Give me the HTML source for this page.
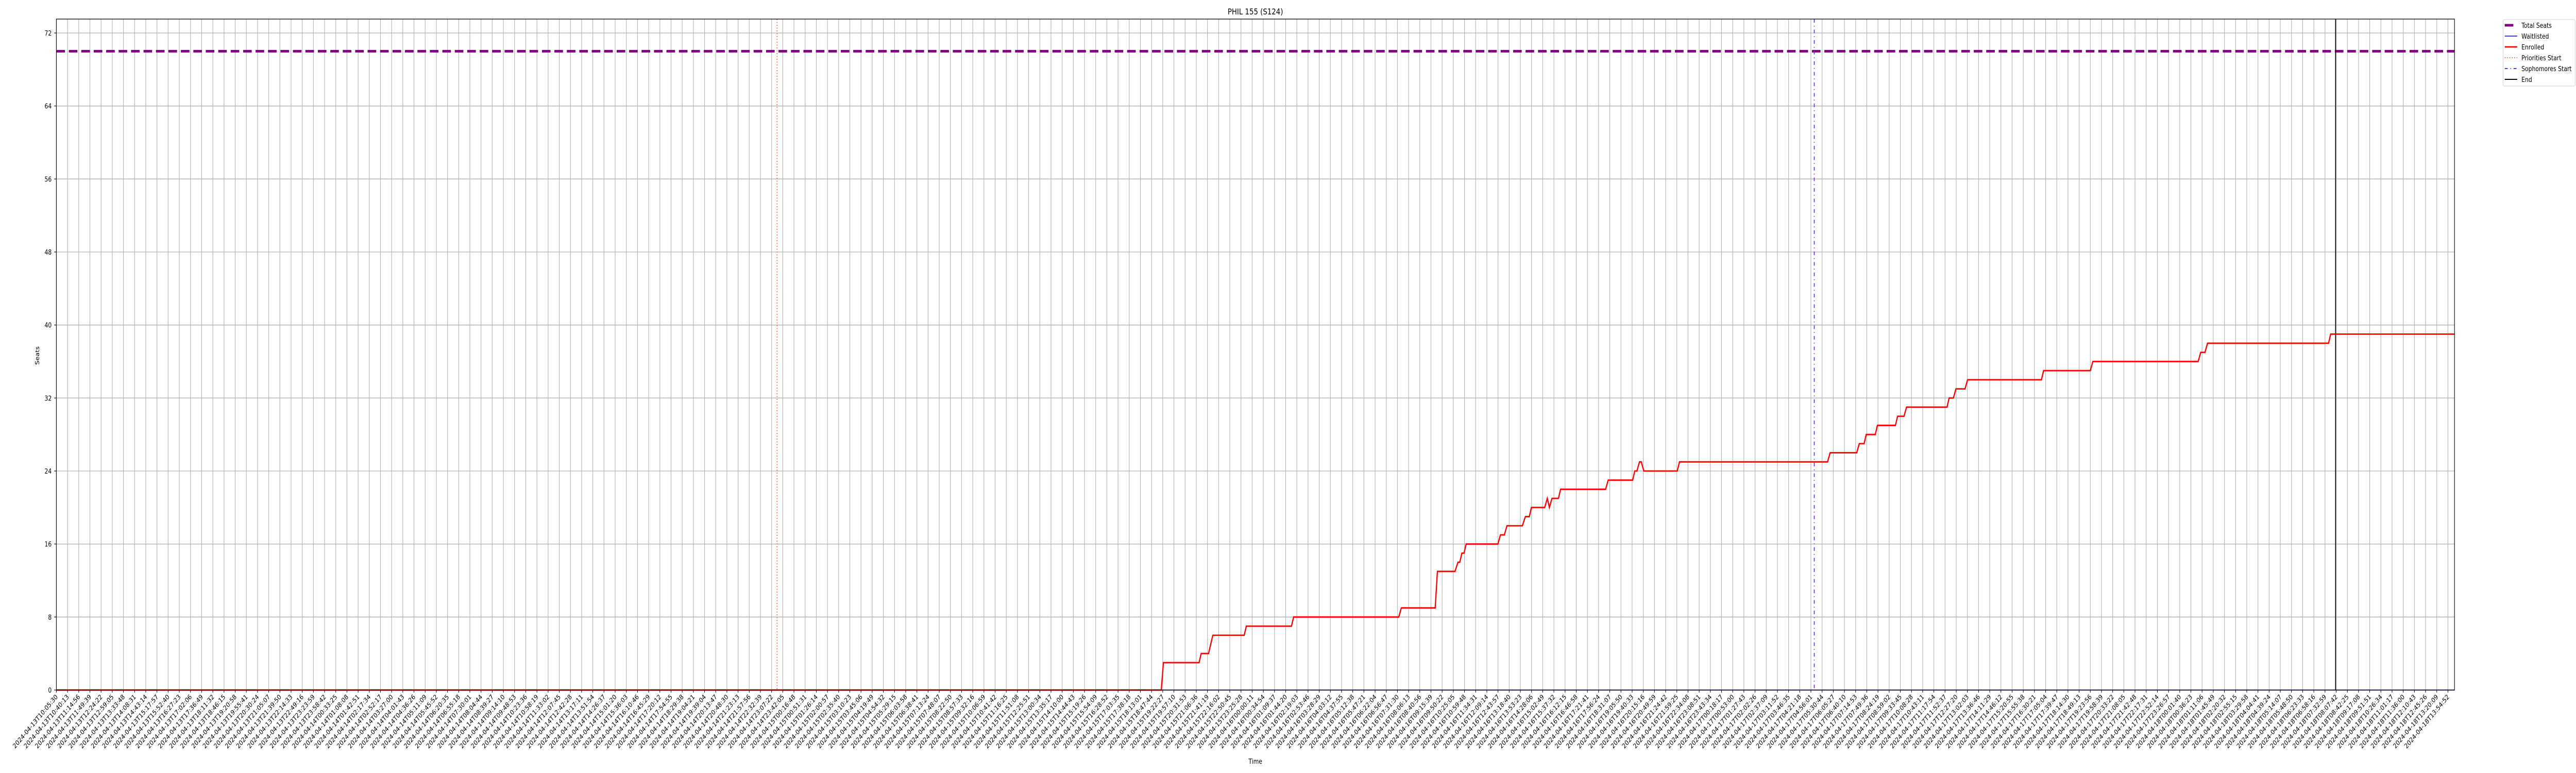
<!DOCTYPE html>
<html><head><meta charset="utf-8">
<style>
html,body{margin:0;padding:0;background:#fff;width:100%;height:100%;overflow:hidden;}
svg{display:block;width:100vw;height:100vh;font-family:"DejaVu Sans","Liberation Sans",sans-serif;}
</style></head>
<body>
<svg id="chart" viewBox="0 0 6000 1500" preserveAspectRatio="none" overflow="hidden" xmlns="http://www.w3.org/2000/svg">
<rect x="0" y="0" width="6000" height="1500" fill="#fff"/>
<g id="grid"></g>
<g id="marks"></g>
<g id="axes"></g>
<text x="2924" y="28" font-size="16" text-anchor="middle">PHIL 155 (S124)</text>
<text x="2924" y="1482" font-size="13" text-anchor="middle">Time</text>
<text x="0" y="0" font-size="13" text-anchor="middle" transform="translate(91,690) rotate(-90)">Seats</text>
<g id="legend"></g>
</svg>
<script>
// ---- data ----
const totalSeats = 70;
const enrolledT = [0,98.87,99.06,102.25,102.44,103.10,103.48,106.29,106.48,110.52,110.71,120.12,120.35,123.38,123.58,125.15,125.42,125.58,125.77,125.96,126.15,128.99,129.22,129.57,129.80,131.18,131.45,131.80,131.99,133.18,133.41,133.60,133.83,134.41,134.60,138.63,138.86,141.05,141.24,141.43,141.66,141.82,142.05,145.04,145.24,158.49,158.72,161.10,161.33,161.76,161.95,162.76,162.95,164.56,164.76,165.33,165.56,169.18,169.37,169.75,169.98,170.79,171.02,177.63,177.82,182.00,182.23,191.65,191.88,192.26,192.49,203.32,203.51,214.59];
const enrolledV = [0,0,3,3,4,4,6,6,7,7,8,8,9,9,13,13,14,14,15,15,16,16,17,17,18,18,19,19,20,20,21,20,21,21,22,22,23,23,24,24,25,25,24,24,25,25,26,26,27,27,28,28,29,29,30,30,31,31,32,32,33,33,34,34,35,35,36,36,37,37,38,38,39,39];
const waitlistT = [0,214.59];
const waitlistV = [0,0];
const prioritiesStart = 64.49;
const sophomoresStart = 157.30;
const endT = 203.95;
const yTicks = [0,8,16,24,32,40,48,56,64,72];
const tickCount = 215;
const firstTickLabel = "2024-04-13T10:05:30";
const tickStepSeconds = 2083;

// ---- scales ----
const L=131.3, R=5717, T=37, B=1339;
const xMax=214.59, yMax=72*(B-T)/(B-64);
function xs(t){return L + t*(R-L)/xMax;}
function ys(v){return B - v*(B-T)/yMax;}
const NS="http://www.w3.org/2000/svg";
function mk(tag,parent,attrs){const e=document.createElementNS(NS,tag);for(const k in attrs)e.setAttribute(k,attrs[k]);parent.appendChild(e);return e;}
const grid=document.getElementById('grid'), marks=document.getElementById('marks'), axes=document.getElementById('axes'), legend=document.getElementById('legend');

function pad(n){return String(n).padStart(2,'0');}
function label(i){
  const base=Date.UTC(2024,3,13,10,5,30)+i*tickStepSeconds*1000;
  const d=new Date(base);
  return d.getUTCFullYear()+"-"+pad(d.getUTCMonth()+1)+"-"+pad(d.getUTCDate())+"T"+pad(d.getUTCHours())+":"+pad(d.getUTCMinutes())+":"+pad(d.getUTCSeconds());
}
const tickPx=(5701.7-131.3)/(tickCount-1);

for(let i=0;i<tickCount;i++){
  const x=L+i*tickPx;
  const g=mk('line',grid,{x1:x,x2:x,y1:T,y2:B,stroke:'#b0b0b0','stroke-width':1.3});
  
  
  const tk=mk('line',axes,{x1:x,x2:x,y1:B,y2:B+5,stroke:'#000','stroke-width':1.2});
  
  
  const tx=mk('text',axes,{x:0,y:0,'font-size':13,'text-anchor':'end',transform:`translate(${x+4},${B+14}) rotate(-45)`});
  tx.textContent = i===0?firstTickLabel:label(i);
  
  
}
yTicks.forEach(v=>{
  const y=ys(v);
  const g=mk('line',grid,{x1:L,x2:R,y1:y,y2:y,stroke:'#b0b0b0','stroke-width':1.3});
  
  
  const tk=mk('line',axes,{x1:L-5,x2:L,y1:y,y2:y,stroke:'#000','stroke-width':1.2});
  
  
  const tx=mk('text',axes,{x:L-11,y:y+5,'font-size':13,'text-anchor':'end'});
  tx.textContent=v;
  
  
});

const ts=mk('line',marks,{x1:L,x2:R,y1:ys(totalSeats),y2:ys(totalSeats),stroke:'#800080','stroke-width':5,'stroke-dasharray':'20 9'});


const pr=mk('line',marks,{x1:xs(prioritiesStart),x2:xs(prioritiesStart),y1:T,y2:B,stroke:'#e8703a','stroke-width':2,'stroke-dasharray':'2 3.5'});


const so=mk('line',marks,{x1:xs(sophomoresStart),x2:xs(sophomoresStart),y1:T,y2:B,stroke:'#6a2be2','stroke-width':2,'stroke-dasharray':'7 6 1.5 6'});


const wl=mk('polyline',marks,{points:waitlistT.map((t,i)=>xs(t)+','+ys(waitlistV[i])).join(' '),fill:'none',stroke:'#0000ff','stroke-width':1.5});


const en=mk('polyline',marks,{points:enrolledT.map((t,i)=>xs(t)+','+ys(enrolledV[i])).join(' '),fill:'none',stroke:'#ff0000','stroke-width':2.8,'stroke-linejoin':'miter'});


const ed=mk('line',marks,{x1:xs(endT),x2:xs(endT),y1:T,y2:B,stroke:'#000','stroke-width':2});



const fr=mk('rect',axes,{x:L,y:T,width:R-L,height:B-T,fill:'none',stroke:'#000','stroke-width':1.3});



const lb=mk('rect',legend,{x:5830,y:38,width:168,height:129,rx:3,fill:'#fff',stroke:'#d0d0d0','stroke-width':1});


const items=[
  ['Total Seats','#800080',5,'',5834,5854],
  ['Waitlisted','#0000ff',1.5,'',5834,5863],
  ['Enrolled','#ff0000',2.8,'',5834,5863],
  ['Priorities Start','#e8703a',2,'2 3.5',5834,5863],
  ['Sophomores Start','#6a2be2',2,'7 6 1.5 6',5834,5863],
  ['End','#000',2,'',5834,5863]
];
items.forEach((it,i)=>{
  const y=49+i*21;
  const h=mk('line',legend,{x1:it[4],x2:it[5],y1:y,y2:y,stroke:it[1],'stroke-width':it[2],'stroke-dasharray':it[3]||'none'});
  
  
  const t=mk('text',legend,{x:5873,y:y+5,'font-size':13});
  t.textContent=it[0];
  
  
});
</script>
</body></html>
